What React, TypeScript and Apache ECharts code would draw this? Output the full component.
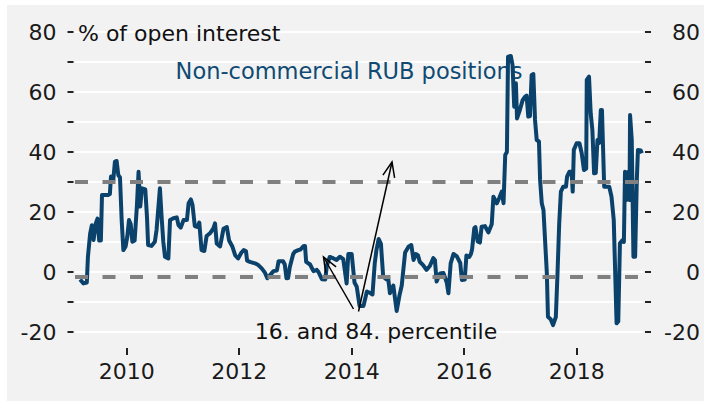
import React, { useEffect, useRef } from 'react';
import * as echarts from 'echarts';

const years = [
  2009.17, 2009.23, 2009.29, 2009.31, 2009.35, 2009.38, 2009.41, 2009.45, 2009.48, 2009.51,
  2009.54, 2009.56, 2009.67, 2009.70, 2009.72, 2009.76, 2009.79, 2009.82, 2009.85, 2009.88,
  2009.91, 2009.94, 2009.98, 2010.01, 2010.04, 2010.07, 2010.10, 2010.14, 2010.18, 2010.21,
  2010.24, 2010.27, 2010.33, 2010.36, 2010.38, 2010.44, 2010.50, 2010.53, 2010.59, 2010.62,
  2010.65, 2010.68, 2010.74, 2010.77, 2010.83, 2010.89, 2010.92, 2010.96, 2011.01, 2011.07,
  2011.10, 2011.14, 2011.17, 2011.21, 2011.26, 2011.29, 2011.33, 2011.38, 2011.42, 2011.48,
  2011.54, 2011.57, 2011.60, 2011.66, 2011.72, 2011.78, 2011.82, 2011.88, 2011.93, 2011.98,
  2012.04, 2012.08, 2012.12, 2012.14, 2012.19, 2012.28, 2012.34, 2012.40, 2012.46, 2012.50,
  2012.56, 2012.61, 2012.67, 2012.70, 2012.78, 2012.81, 2012.84, 2012.87, 2012.90, 2012.96,
  2012.99, 2013.05, 2013.09, 2013.14, 2013.17, 2013.19, 2013.26, 2013.32, 2013.38, 2013.41,
  2013.47, 2013.53, 2013.56, 2013.61, 2013.67, 2013.73, 2013.79, 2013.85, 2013.91, 2013.94,
  2014.00, 2014.05, 2014.09, 2014.14, 2014.21, 2014.27, 2014.33, 2014.37, 2014.41, 2014.44,
  2014.48, 2014.52, 2014.56, 2014.62, 2014.65, 2014.68, 2014.74, 2014.80, 2014.85, 2014.89,
  2014.95, 2015.01, 2015.06, 2015.10, 2015.14, 2015.18, 2015.21, 2015.27, 2015.33, 2015.39,
  2015.45, 2015.48, 2015.51, 2015.57, 2015.63, 2015.69, 2015.72, 2015.76, 2015.81, 2015.87,
  2015.93, 2015.96, 2016.01, 2016.04, 2016.09, 2016.12, 2016.14, 2016.18, 2016.20, 2016.24,
  2016.28, 2016.31, 2016.37, 2016.43, 2016.49, 2016.52, 2016.58, 2016.62, 2016.67, 2016.70,
  2016.73, 2016.76, 2016.78, 2016.83, 2016.86, 2016.89, 2016.92, 2016.94, 2016.99, 2017.04,
  2017.08, 2017.11, 2017.14, 2017.17, 2017.20, 2017.23, 2017.26, 2017.29, 2017.33, 2017.35,
  2017.38, 2017.41, 2017.47, 2017.49, 2017.54, 2017.58, 2017.63, 2017.66, 2017.69, 2017.72,
  2017.76, 2017.81, 2017.83, 2017.87, 2017.91, 2017.93, 2017.95, 2018.00, 2018.05, 2018.09,
  2018.13, 2018.17, 2018.18, 2018.22, 2018.25, 2018.28, 2018.31, 2018.34, 2018.37, 2018.40,
  2018.43, 2018.45, 2018.49, 2018.53, 2018.58, 2018.62, 2018.66, 2018.71, 2018.74, 2018.77,
  2018.82, 2018.84, 2018.86, 2018.89, 2018.92, 2018.94, 2018.95, 2018.98, 2019.01, 2019.04,
  2019.07, 2019.09, 2019.14, 2019.16,
];

// Non-commercial RUB positions, % of open interest
const positions = [
  -2.5, -3.8, -3.5, 5.1, 12.9, 15.6, 10.7, 16.2, 17.8, 10.5,
  10.5, 25.7, 25.7, 26, 31.8, 30.5, 36.8, 37, 32.3, 31.5,
  17.3, 7.3, 8.5, 11.8, 17.3, 16, 10.1, 10.5, 21.8, 33.4,
  21.8, 27.9, 27.5, 18.4, 9, 8.7, 10.1, 14, 27.9, 18.4,
  10.1, 5.1, 4.5, 17.3, 17.9, 18.2, 15.6, 14.8, 17.3, 17.3,
  22.9, 24.2, 22.3, 15.3, 15, 16.5, 7.3, 7, 12, 12.9,
  14.5, 16.2, 9.5, 8.5, 14.4, 15, 10.5, 8.4, 5.5, 4.5,
  6.5, 7.3, 7, 3.8, 3.4, 2.9, 2.3, 1.2, -0.3, -2.1,
  -0.8, 0.3, 0.5, 3.6, 3.6, 2.5, -2.1, -2, 1.7, 6,
  6.8, 7.3, 7.5, 8.6, 8.7, 3.4, 2.5, 0.3, 0.7, 0,
  -2.4, -2.5, 2.3, 5, 4.6, 4, 5.1, 4.3, -3.8, 6,
  6, -3.5, -4.9, -11.3, -11.3, -6.5, -7, -7.5, 2.9, 7.3,
  11, 9.4, -1.6, -2.5, -2.3, -7.1, -4.5, -13, -7.8, -4.5,
  6.5, 8.4, 9, 4, 6, 5.5, 3.4, 2.3, 0.7, 2,
  4.6, 4, -3.2, -0.5, -0.3, -3.5, -7.1, 2.9, 6, 5.2,
  3, -2.7, -2.5, 5.5, 5, 6, 7.5, 14.6, 15, 10.2,
  9.8, 15.1, 15.3, 13.2, 15.9, 25.1, 22.9, 24.5, 26.8, 22.9,
  39, 40, 71.8, 72, 69, 55.1, 62.9, 51.2, 54, 57.3,
  58.4, 58.8, 51.8, 52, 65.7, 66, 50.7, 44, 43.5, 30.7,
  22.9, 20.7, -0.4, -14.9, -15.8, -17.7, -15, -0.4, 16.2, 26.8,
  28.4, 28.4, 31.8, 33.4, 33.4, 26.8, 40.7, 42.9, 42.9, 39.6,
  34, 34.5, 64, 65.1, 52.9, 47.3, 32.9, 33, 44, 43,
  54, 54, 28.4, 28.4, 28.4, 25.1, 17.3, -17.1, -16.5, 9.6,
  10.7, 10, 33.4, 24, 33.4, 24, 52.3, 44, 5.1, 5.1,
  30.7, 40.7, 40.5, 39.6,
];

// 16th and 84th percentile levels
const percentileLevels = [30.2, -1.6];

const xTickYears = [2010, 2012, 2014, 2016, 2018];
const yMin = -20;
const yMax = 80;
const yStep = 10;
const yLabelStep = 20;

const FONT = 'DejaVu Sans';
const LINE_COLOR = '#0b426c';

function arrowGraphics(x1: number, y1: number, x2: number, y2: number) {
  const dx = x2 - x1;
  const dy = y2 - y1;
  const len = Math.sqrt(dx * dx + dy * dy);
  const bx = -dx / len;
  const by = -dy / len;
  const a = (22 * Math.PI) / 180;
  const hl = 16;
  const p1 = [x2 + hl * (bx * Math.cos(a) - by * Math.sin(a)), y2 + hl * (bx * Math.sin(a) + by * Math.cos(a))];
  const p2 = [x2 + hl * (bx * Math.cos(a) + by * Math.sin(a)), y2 + hl * (-bx * Math.sin(a) + by * Math.cos(a))];
  return [
    { type: 'line', z: 20, shape: { x1, y1, x2, y2 }, style: { stroke: '#000', lineWidth: 1.5 } },
    { type: 'polyline', z: 20, shape: { points: [p1, [x2, y2], p2] }, style: { stroke: '#000', lineWidth: 1.5, fill: null } },
  ];
}

export default function App() {
  const ref = useRef<HTMLDivElement>(null);
  useEffect(() => {
    if (!ref.current) return;
    const chart = echarts.init(ref.current, null, { renderer: 'svg' });
    const data = years.map((y, i) => [y, positions[i]]);
    const tickStyle = { color: '#222', width: 2 };
    chart.setOption({
      animation: false,
      backgroundColor: 'transparent',
      grid: { left: 75, right: 61, top: 32, bottom: 69 },
      xAxis: {
        type: 'value',
        min: 2009.08,
        max: 2019.18,
        offset: 16,
        axisLine: { show: false, onZero: false },
        splitLine: { show: false },
        axisTick: { show: true, customValues: xTickYears, length: 7, lineStyle: tickStyle },
        axisLabel: {
          customValues: xTickYears,
          margin: 12,
          fontSize: 22,
          fontFamily: FONT,
          color: '#1a1a1a',
          formatter: (v: number) => String(Math.round(v)),
        },
      },
      yAxis: [
        {
          type: 'value',
          position: 'left',
          min: yMin,
          max: yMax,
          interval: yStep,
          offset: 1.5,
          axisLine: { show: false, onZero: false },
          axisTick: { show: true, length: 6, lineStyle: tickStyle },
          axisLabel: {
            margin: 17,
            fontSize: 22,
            fontFamily: FONT,
            color: '#1a1a1a',
            formatter: (v: number) => (v % yLabelStep === 0 ? String(v) : ''),
          },
          splitLine: { show: true, lineStyle: { color: '#ffffff', width: 2 } },
        },
        {
          type: 'value',
          position: 'right',
          min: yMin,
          max: yMax,
          interval: yStep,
          offset: 2,
          axisLine: { show: false, onZero: false },
          axisTick: { show: true, length: 6, lineStyle: tickStyle },
          axisLabel: {
            margin: 55,
            align: 'right',
            fontSize: 22,
            fontFamily: FONT,
            color: '#1a1a1a',
            formatter: (v: number) => (v % yLabelStep === 0 ? String(v) : ''),
          },
          splitLine: { show: false },
        },
      ],
      series: [
        {
          type: 'line',
          data,
          showSymbol: false,
          z: 3,
          lineStyle: { color: LINE_COLOR, width: 4, join: 'round' },
          itemStyle: { color: LINE_COLOR },
          markLine: {
            silent: true,
            symbol: ['none', 'none'],
            label: { show: false },
            lineStyle: { color: '#808080', width: 4, type: [13, 14.5] },
            data: percentileLevels.map((v) => ({ yAxis: v })),
          },
        },
      ],
      graphic: [
        {
          type: 'text',
          z: 1,
          x: 349,
          y: 71,
          style: {
            text: 'Non-commercial RUB positions',
            fill: '#0e4a73',
            font: `22.5px "${FONT}"`,
            align: 'center',
            verticalAlign: 'middle',
          },
        },
        {
          type: 'text',
          z: 20,
          x: 78,
          y: 33,
          style: {
            text: '% of open interest',
            fill: '#111',
            font: `22px "${FONT}"`,
            align: 'left',
            verticalAlign: 'middle',
          },
        },
        {
          type: 'text',
          z: 20,
          x: 376,
          y: 331,
          style: {
            text: '16. and 84. percentile',
            fill: '#111',
            font: `22px "${FONT}"`,
            align: 'center',
            verticalAlign: 'middle',
          },
        },
        ...arrowGraphics(353.5, 309, 323.5, 257),
        ...arrowGraphics(358.5, 311.5, 392, 162),
      ],
    });
    return () => chart.dispose();
  }, []);

  return (
    <div style={{ position: 'absolute', left: 0, top: 0, width: 704, height: 401, background: '#ffffff' }}>
      <div style={{ position: 'absolute', left: 7, top: 5, width: 697, height: 396, background: '#f2f2f2' }} />
      <div ref={ref} style={{ position: 'absolute', left: 0, top: 0, width: 704, height: 401 }} />
    </div>
  );
}
